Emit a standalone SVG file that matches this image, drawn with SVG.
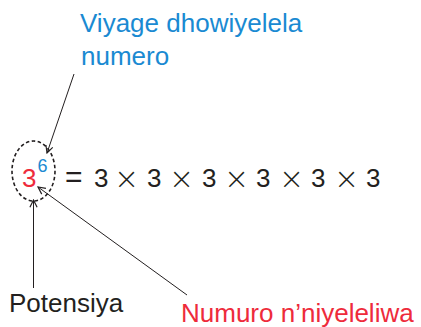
<svg xmlns="http://www.w3.org/2000/svg" width="421" height="327" viewBox="0 0 421 327">
<style>
text{font-family:"Liberation Sans",Arial,sans-serif;font-size:26px;fill:#231f20}
.blue{fill:#1a8ad2}
.red{fill:#ee2b3b}
.mul{font-family:"DejaVu Sans",sans-serif;font-size:30px;font-weight:300}
.conn line{stroke:#231f20;stroke-width:1;fill:none;marker-end:url(#arr)}
</style>
<defs>
<marker id="arr" viewBox="0 0 10 10" refX="9" refY="5" markerWidth="9" markerHeight="9" markerUnits="userSpaceOnUse" orient="auto">
<path d="M1,1 L9,5 L1,9" fill="none" stroke="#231f20" stroke-width="1.3"/>
</marker>
</defs>
<rect width="421" height="327" fill="#fff"/>
<g id="label-base-number">
<text class="blue" x="80" y="32">Viyage dhowiyelela</text>
<text class="blue" x="81" y="65">numero</text>
</g>
<g id="power">
<ellipse cx="33.5" cy="171" rx="21.5" ry="30" fill="none" stroke="#231f20" stroke-width="1.6" stroke-dasharray="3.5,2.5"/>
<text class="red" x="22" y="187">3</text>
<text class="blue" x="37.5" y="171.5" style="font-size:18px">6</text>
</g>
<g id="expansion">
<text y="187"><tspan x="65" style="font-size:30px">=</tspan> <tspan x="94">3</tspan> <tspan class="mul" x="114" y="189">×</tspan> <tspan x="147" y="187">3</tspan> <tspan class="mul" x="169" y="189">×</tspan> <tspan x="202" y="187">3</tspan> <tspan class="mul" x="224" y="189">×</tspan> <tspan x="256" y="187">3</tspan> <tspan class="mul" x="279" y="189">×</tspan> <tspan x="311" y="187">3</tspan> <tspan class="mul" x="334" y="189">×</tspan> <tspan x="366" y="187">3</tspan></text>
</g>
<g id="label-potensiya">
<text x="9" y="312">Potensiya</text>
</g>
<g id="label-numuro">
<text class="red" x="181" y="322">Numuro n’niyeleliwa</text>
</g>
<g class="conn" id="connectors">
<line x1="74" y1="74" x2="47" y2="153"/>
<line x1="33.5" y1="288" x2="33.5" y2="200"/>
<line x1="187" y1="295" x2="38" y2="187"/>
</g>
</svg>
